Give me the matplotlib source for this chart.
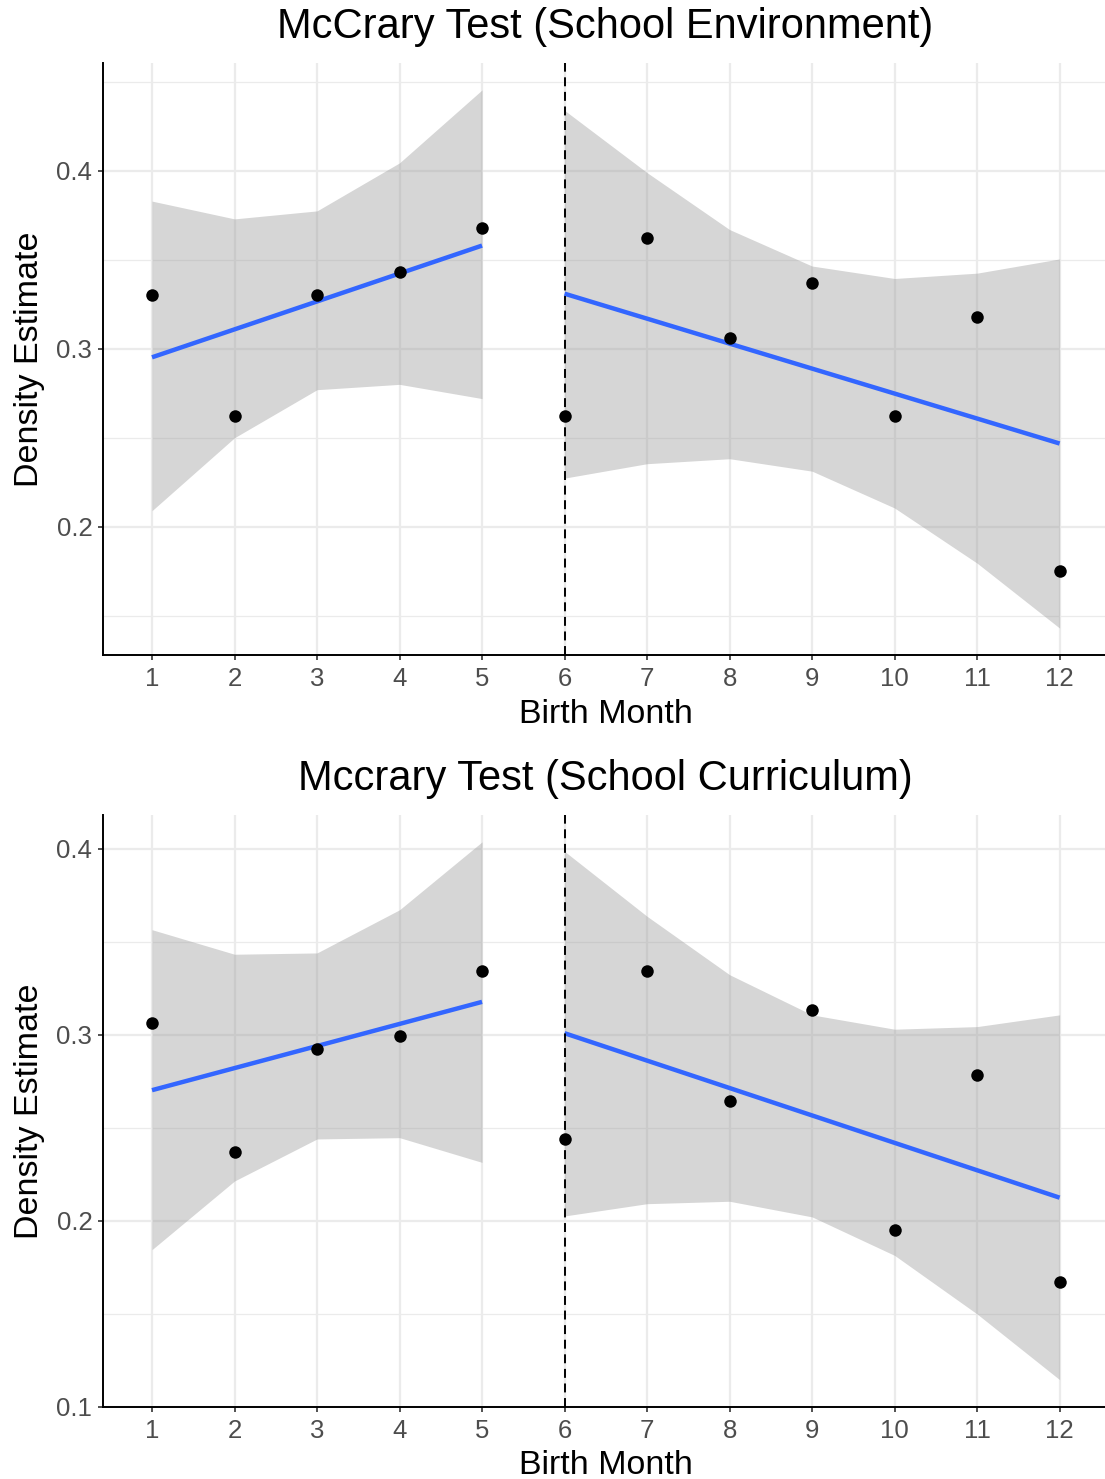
import numpy as np
import matplotlib
matplotlib.use('Agg')
import matplotlib.pyplot as plt
from matplotlib.ticker import FixedLocator

months = np.arange(1, 13)
cutoff = 6

# School Environment: density estimate per birth month with band
env_density = [0.330, 0.262, 0.330, 0.343, 0.368, 0.262, 0.362, 0.306, 0.337, 0.262, 0.318, 0.175]
env_upper = [0.383, 0.373, 0.3775, 0.4045, 0.4455, 0.434, 0.399, 0.367, 0.3465, 0.3395, 0.3425, 0.3505]
env_lower = [0.209, 0.250, 0.277, 0.280, 0.272, 0.2273, 0.2354, 0.2382, 0.2312, 0.2105, 0.1795, 0.143]

# School Curriculum
cur_density = [0.3066, 0.2369, 0.2926, 0.2996, 0.3346, 0.2439, 0.3346, 0.2647, 0.3135, 0.195, 0.2785, 0.167]
cur_upper = [0.3566, 0.3434, 0.3441, 0.3673, 0.4038, 0.3987, 0.3638, 0.3324, 0.3108, 0.3031, 0.3045, 0.3108]
cur_lower = [0.1846, 0.2215, 0.2441, 0.2448, 0.2315, 0.2027, 0.2093, 0.2106, 0.2022, 0.1815, 0.150, 0.1147]

W, H = 1105, 1479
tsize = 18.5
lsize = 24.5

plt.rc('font', family=['Liberation Sans', 'DejaVu Sans'])

def fx (px):
  return px / W

def fy (py):
  return 1.0 - py / H

def panel (fig, top, bottom, title, dens, upper, lower, yticks):
  ax = fig.add_axes([fx(102.5), fy(bottom), 1.0 - fx(102.5), (bottom - top) / H])
  dens = np.array(dens)
  upper = np.array(upper)
  lower = np.array(lower)
  left = months < cutoff
  right = ~left
  for sel in (left, right):
    x = months[sel]
    ax.fill_between (x, lower[sel], upper[sel], color='#999999', alpha=0.4, linewidth=0, zorder=2)
    b, a = np.polyfit (x, dens[sel], 1)
    ax.plot ([x[0], x[-1]], [a + b*x[0], a + b*x[-1]], color='#3366FF', linewidth=3.2,
             solid_capstyle='butt', zorder=3)
  ax.axvline (cutoff, color='black', linewidth=1.4, linestyle=(0, (4.6, 2.9)), zorder=4)
  ax.plot (months, dens, 'o', color='black', markersize=9, markeredgewidth=0, zorder=5)

  lo, hi = lower.min(), upper.max()
  pad = 0.05 * (hi - lo)
  ax.set_ylim (lo - pad, hi + pad)
  ax.set_xlim (0.4, 12.55)
  ax.set_xticks (months)
  ax.set_yticks (yticks)
  ax.set_yticklabels (['{:.1f}'.format(v) for v in yticks])
  ax.yaxis.set_minor_locator (FixedLocator([0.15, 0.25, 0.35, 0.45]))
  ax.grid (which='major', color='#EBEBEB', linewidth=1.6, zorder=0)
  ax.grid (which='minor', axis='y', color='#EBEBEB', linewidth=0.9, zorder=0)
  ax.set_axisbelow (True)
  ax.tick_params (which='major', length=3.8, width=1.2, color='#333333', labelsize=tsize,
                  labelcolor='#4D4D4D')
  ax.tick_params (axis='x', pad=5)
  ax.tick_params (axis='y', pad=3.5)
  ax.tick_params (which='minor', length=0)
  for side in ('top', 'right'):
    ax.spines[side].set_visible(False)
  for side in ('left', 'bottom'):
    ax.spines[side].set_linewidth(1.4)
  fig.text (fx(605), fy(top - 36), title, ha='center', va='center', fontsize=30)
  fig.text (fx(606), fy(bottom + 59), 'Birth Month', ha='center', va='center', fontsize=lsize)
  fig.text (fx(30), fy((top + bottom) / 2), 'Density Estimate', ha='center', va='center',
            rotation=90, fontsize=lsize)
  return ax

fig = plt.figure (figsize=(W/100, H/100), dpi=100)
panel (fig, 63, 655, 'McCrary Test (School Environment)', env_density, env_upper, env_lower,
       [0.2, 0.3, 0.4])
panel (fig, 815, 1407, 'Mccrary Test (School Curriculum)', cur_density, cur_upper, cur_lower,
       [0.1, 0.2, 0.3, 0.4])
fig.savefig ('out.png', dpi=100)
plt.close()
